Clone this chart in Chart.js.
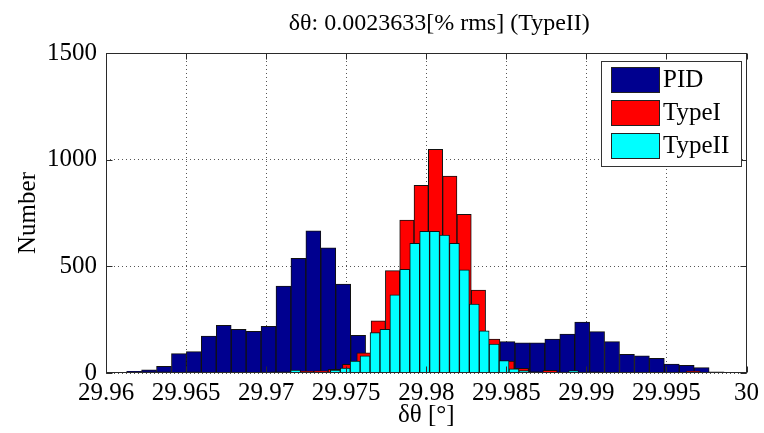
<!DOCTYPE html>
<html>
<head>
<meta charset="utf-8">
<script src="https://cdn.jsdelivr.net/npm/chart.js@4.4.1/dist/chart.umd.min.js"></script>
<style>
  html, body { margin: 0; padding: 0; background: #ffffff; }
  #wrap { width: 764px; height: 433px; }
</style>
</head>
<body>
<div id="wrap"><canvas id="c" width="764" height="433"></canvas></div>
<script>
// Histogram of the angle error, three controllers (40 bins each for PID / TypeI)
const pidStart = 29.96129, pidWidth = 0.0009327;
const pidCounts = [8, 15, 31, 91, 100, 173, 223, 205, 195, 219,
                   408, 538, 667, 587, 417, 177, 90, 70, 60, 55,
                   60, 70, 90, 120, 140, 147, 142, 142, 159, 183,
                   239, 194, 147, 87, 80, 69, 42, 36, 25, 5];

const type1Start = 29.96225, type1Width = 0.000894;
const type1Counts = [5, 5, 2, 5, 0, 2, 3, 2, 3, 5,
                     5, 8, 10, 17, 41, 95, 244, 480, 717, 880,
                     1049, 923, 744, 389, 159, 56, 22, 5, 12, 3,
                     3, 5, 2, 2, 2, 1, 2, 3, 8, 2];

const type2Start = 29.97153, type2Width = 0.00062;
const type2Counts = [14, 3, 2, 3, 14, 23, 56, 80, 189, 205,
                     367, 486, 608, 664, 664, 647, 608, 484, 323, 198,
                     136, 58, 20, 11, 5, 3, 3, 4, 11];

const xTicks = [29.96, 29.965, 29.97, 29.975, 29.98, 29.985, 29.99, 29.995, 30];
const yTicks = [0, 500, 1000, 1500];

const titleText = 'δθ: 0.0023633[% rms] (TypeII)';
const xTitle = 'δθ [°]';
const yTitle = 'Number';

const serif = "'Liberation Serif', 'Times New Roman', serif";

// one point per bin, placed at the bin centre
function binPoints(start, width, counts) {
  return counts.map((c, i) => ({ x: start + width * (i + 0.5), y: c }));
}

// bar thickness in pixels equal to one bin width on the x scale
function binThickness(width) {
  return (ctx) => {
    const s = ctx.chart.scales.x;
    if (!s) return 10;
    return Math.abs(s.getPixelForValue(s.min + width) - s.getPixelForValue(s.min));
  };
}

// the title sits over the plot area, nudged slightly right
const titleOverPlot = {
  id: 'titleOverPlot',
  afterLayout(chart) {
    const t = chart.titleBlock;
    if (!t) return;
    const a = chart.chartArea;
    t.left = a.left + 13;
    t.right = a.right + 13;
  }
};

// boxed legend in the upper-right corner of the plot area
const boxedLegend = {
  id: 'boxedLegend',
  afterDatasetsDraw(chart) {
    const { ctx, chartArea } = chart;
    const items = chart.data.datasets;
    ctx.save();
    ctx.font = '25px ' + serif;
    const sw = 48, sh = 25, gap = 4, rowH = 33, padL = 10, padR = 12, padY = 6;
    let tw = 0;
    items.forEach(d => { tw = Math.max(tw, ctx.measureText(d.label).width); });
    const w = Math.round(padL + sw + gap + tw + padR);
    const h = Math.round(padY * 2 + rowH * items.length - (rowH - sh) + 2);
    const left = Math.round(chartArea.right - 6 - w);
    const top = Math.round(chartArea.top + 8);
    ctx.fillStyle = '#ffffff';
    ctx.fillRect(left, top, w, h);
    ctx.strokeStyle = '#333333';
    ctx.lineWidth = 1;
    ctx.strokeRect(left + 0.5, top + 0.5, w, h);
    items.forEach((d, i) => {
      const y = top + padY + i * rowH;
      ctx.fillStyle = d.backgroundColor;
      ctx.fillRect(left + padL, y, sw, sh);
      ctx.strokeStyle = '#222222';
      ctx.strokeRect(left + padL + 0.5, y + 0.5, sw, sh);
      ctx.fillStyle = '#000000';
      ctx.textBaseline = 'middle';
      ctx.textAlign = 'left';
      ctx.fillText(d.label, left + padL + sw + gap, y + sh / 2 + 1);
    });
    ctx.restore();
  }
};

// solid frame round the plot with short inward tick marks
const plotFrame = {
  id: 'plotFrame',
  afterDatasetsDraw(chart) {
    const { ctx, chartArea: a, scales } = chart;
    ctx.save();
    ctx.strokeStyle = '#2a2a2a';
    ctx.lineWidth = 1;
    const L = Math.round(a.left) + 0.5, R = Math.round(a.right) - 0.5;
    const T = Math.round(a.top) + 0.5, B = Math.round(a.bottom) - 0.5;
    ctx.strokeRect(L, T, R - L, B - T);
    ctx.beginPath();
    scales.x.ticks.forEach((t) => {
      const px = Math.round(scales.x.getPixelForValue(t.value)) + 0.5;
      ctx.moveTo(px, B); ctx.lineTo(px, B - 6);
      ctx.moveTo(px, T); ctx.lineTo(px, T + 6);
    });
    scales.y.ticks.forEach((t) => {
      const py = Math.round(scales.y.getPixelForValue(t.value)) + 0.5;
      ctx.moveTo(L, py); ctx.lineTo(L + 6, py);
      ctx.moveTo(R, py); ctx.lineTo(R - 6, py);
    });
    ctx.stroke();
    ctx.restore();
  }
};

const barStyle = { borderColor: '#111111', borderWidth: 1, grouped: false };

new Chart(document.getElementById('c'), {
  type: 'bar',
  data: {
    datasets: [
      Object.assign({ label: 'PID', data: binPoints(pidStart, pidWidth, pidCounts),
        backgroundColor: '#00008F', order: 3, barThickness: binThickness(pidWidth) }, barStyle),
      Object.assign({ label: 'TypeI', data: binPoints(type1Start, type1Width, type1Counts),
        backgroundColor: '#FF0000', order: 2, barThickness: binThickness(type1Width) }, barStyle),
      Object.assign({ label: 'TypeII', data: binPoints(type2Start, type2Width, type2Counts),
        backgroundColor: '#00FFFF', order: 1, barThickness: binThickness(type2Width) }, barStyle)
    ]
  },
  options: {
    responsive: false,
    animation: false,
    events: [],
    layout: { padding: { left: 0, right: 16, top: 0, bottom: 0 } },
    plugins: {
      legend: { display: false },
      tooltip: { enabled: false },
      title: {
        display: true,
        text: titleText,
        color: '#000000',
        font: { family: serif, size: 24, weight: 'normal', lineHeight: 1.2 },
        padding: { top: 9, bottom: 15.2 }
      }
    },
    scales: {
      x: {
        type: 'linear',
        min: 29.96,
        max: 30,
        offset: false,
        afterBuildTicks: (s) => { s.ticks = xTicks.map(v => ({ value: v })); },
        afterFit: (s) => { s.height = 60; },
        ticks: {
          autoSkip: false,
          maxRotation: 0,
          padding: 5,
          color: '#000000',
          font: { family: serif, size: 25, lineHeight: 1.2 },
          callback: (v) => String(+Number(v).toFixed(3))
        },
        grid: { offset: false, drawTicks: false, color: '#555555', lineWidth: 1 },
        border: { display: false, dash: [1, 3] },
        title: {
          display: true,
          text: xTitle,
          color: '#000000',
          font: { family: serif, size: 25, lineHeight: 1.2 },
          padding: { top: 0, bottom: 3 }
        }
      },
      y: {
        min: 0,
        max: 1500,
        afterBuildTicks: (s) => { s.ticks = yTicks.map(v => ({ value: v })); },
        afterFit: (s) => { s.width = 106; },
        ticks: {
          padding: 9,
          color: '#000000',
          font: { family: serif, size: 25, lineHeight: 1.2 },
          callback: (v) => String(v)
        },
        grid: { drawTicks: false, color: '#555555', lineWidth: 1 },
        border: { display: false, dash: [1, 3] },
        title: {
          display: true,
          text: yTitle,
          color: '#000000',
          font: { family: serif, size: 25, lineHeight: 1.2 },
          padding: { top: 13, bottom: 0 }
        }
      }
    }
  },
  plugins: [titleOverPlot, plotFrame, boxedLegend]
});
</script>
</body>
</html>
